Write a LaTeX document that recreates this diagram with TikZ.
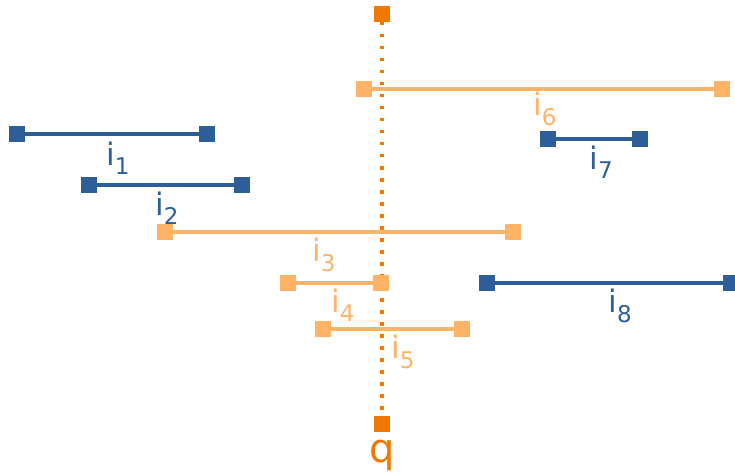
\documentclass[tikz,border=0pt]{standalone}
\usepackage{fontspec}
\setmainfont{DejaVu Sans}
\definecolor{ivblue}{HTML}{2E5E99}
\definecolor{ivlight}{HTML}{FFB366}
\definecolor{ivdark}{HTML}{F07800}
\newcommand{\ilab}[1]{i\raisebox{-0.55ex}{\fontsize{23}{23}\selectfont #1}}
\tikzset{
  endsq/.style={draw=none, fill=#1, minimum size=16pt, inner sep=0pt, outer sep=0pt},
  seg/.style={draw=#1, line width=3.3pt},
  lab/.style={text=#1, font=\fontsize{31}{31}\selectfont, inner sep=0pt, anchor=center}
}
\begin{document}
\begin{tikzpicture}[x=1pt,y=-1pt]
\useasboundingbox (0,0) rectangle (735,473);
\clip (0,0) rectangle (735,473);
% query line
\node[endsq=ivdark] (qt) at (382,14) {};
\node[endsq=ivdark] (qb) at (382,424) {};
\draw[ivdark, line width=3.5pt, dash pattern=on 3.5pt off 8.5pt] (qt) -- (qb);
\node[lab=ivdark, font=\fontsize{40}{40}\selectfont] (q) at (382,455) {q};
% intervals
\foreach \n/\c/\xa/\xb/\y/\lx/\ly in {
  1/ivblue/17/207/134/118/158,
  2/ivblue/89/242/185/167/208,
  3/ivlight/165/513/232/324/255,
  4/ivlight/288/381/283/343/305,
  5/ivlight/323/462/329/403/352,
  6/ivlight/364/722/89/545/109,
  7/ivblue/548/640/139/601/162,
  8/ivblue/487/731/283/620/306}
{
  \node[endsq=\c] (a\n) at (\xa,\y) {};
  \node[endsq=\c] (b\n) at (\xb,\y) {};
  \draw[seg=\c] (a\n) -- (b\n);
  \node[lab=\c] (l\n) at (\lx,\ly) {\ilab{\n}};
}
\end{tikzpicture}
\end{document}
